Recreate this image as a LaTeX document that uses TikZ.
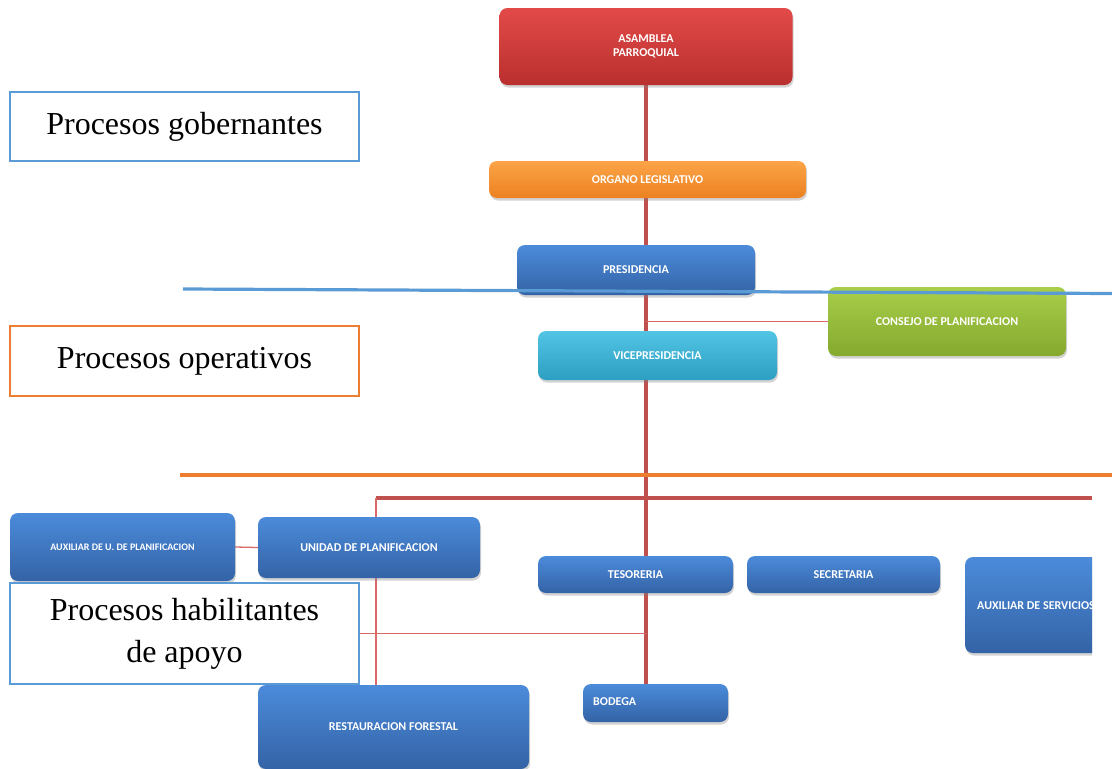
\documentclass[tikz,border=0pt]{standalone}
\usepackage{fontspec}
\setmainfont{Liberation Serif}
\newfontfamily\boxfont{Carlito}
\usetikzlibrary{shadows,calc,backgrounds}

\definecolor{redT}{HTML}{E24A48}
\definecolor{redB}{HTML}{B9302E}
\definecolor{orgT}{HTML}{FBA447}
\definecolor{orgB}{HTML}{EC8121}
\definecolor{bluT}{HTML}{4B8BDA}
\definecolor{bluB}{HTML}{3463A6}
\definecolor{cyaT}{HTML}{52C4E4}
\definecolor{cyaB}{HTML}{2C9FC2}
\definecolor{grnT}{HTML}{A8CE4A}
\definecolor{grnB}{HTML}{85A92E}
\definecolor{linkred}{HTML}{C0504D}
\definecolor{twigred}{HTML}{D86A68}
\definecolor{bandblue}{HTML}{5B9BD5}
\definecolor{bandorange}{HTML}{ED7D31}

\begin{document}
\begin{tikzpicture}[x=1pt,y=-1pt,
  orgbox/.style={rounded corners=8pt, inner sep=0pt, text=white,
    font=\boxfont\bfseries\fontsize{12}{13.5}\selectfont, align=center,
    drop shadow={opacity=0.35, shadow xshift=1pt, shadow yshift=-2.5pt}},
  redbox/.style={orgbox, top color=redT, bottom color=redB},
  orangebox/.style={orgbox, top color=orgT, bottom color=orgB},
  bluebox/.style={orgbox, top color=bluT, bottom color=bluB},
  cyanbox/.style={orgbox, top color=cyaT, bottom color=cyaB},
  greenbox/.style={orgbox, top color=grnT, bottom color=grnB},
  boxtext/.style={anchor=west, text=white, inner sep=0pt,
    font=\boxfont\bfseries\fontsize{12}{13.5}\selectfont},
  trunk/.style={draw=linkred, line width=3.2pt},
  twig/.style={draw=twigred, line width=1.3pt},
  band/.style={line width=3.2pt},
  tag/.style={draw, fill=white, line width=2pt, inner sep=0pt,
    font=\fontsize{32}{42}\selectfont, align=center}]

\useasboundingbox (0,0) rectangle (1112,769);

% ---------- organisational chart (cut at the right margin) ----------
\begin{scope}
\clip (0,0) rectangle (1092,769);

\node[redbox, minimum width=293, minimum height=77] (asam) at (646,46.5)
  {ASAMBLEA\\PARROQUIAL};
\node[orangebox, minimum width=317, minimum height=37] (org) at (647.5,179.5)
  {ORGANO LEGISLATIVO};
\node[bluebox, minimum width=238, minimum height=50] (pres) at (636,270)
  {PRESIDENCIA};
\node[greenbox, minimum width=238, minimum height=69] (cons) at (947,321.5)
  {CONSEJO DE PLANIFICACION};
\node[cyanbox, minimum width=239, minimum height=49] (vice) at (657.5,355.5)
  {VICEPRESIDENCIA};

\node[bluebox, minimum width=225, minimum height=68,
  font=\boxfont\bfseries\fontsize{10}{12}\selectfont] (auxp) at (122.5,547)
  {AUXILIAR DE U. DE PLANIFICACION};
\node[bluebox, minimum width=222, minimum height=61] (unid) at (369,547.5)
  {UNIDAD DE PLANIFICACION};
\node[bluebox, minimum width=195, minimum height=37] (teso) at (635.5,574.5)
  {TESORERIA};
\node[bluebox, minimum width=193, minimum height=37] (sec) at (843.5,574.5)
  {SECRETARIA};
\node[bluebox, minimum width=160, minimum height=96] (auxs) at (1045,605) {};
\node[boxtext] (auxst) at (977,606) {AUXILIAR DE SERVICIOS};
\node[bluebox, minimum width=271, minimum height=84] (rest) at (393.5,727)
  {RESTAURACION FORESTAL};
\node[bluebox, minimum width=145, minimum height=38] (bod) at (655.5,703) {};
\node[boxtext] (bodt) at (593,702) {BODEGA};

\coordinate (barL) at (376,498);
\coordinate (barR) at (1092,498);

\begin{scope}[on background layer]
  \draw[trunk] (asam.south) -- (asam.south |- bod.north);
  \draw[trunk] (barL) -- (barR);
  \draw[twig] (barL) -- (barL |- rest.north);
  \draw[twig] (cons.west) -- (cons.west -| asam.south);
  \draw[twig] (auxp.east) -- (unid.west);
  \draw[twig] ($(sec.north)+(13.5,0)$) -- ($(sec.north)+(13.5,0)$ |- barL);
  \draw[twig] ($(auxs.north)+(-15,0)$) -- ($(auxs.north)+(-15,0)$ |- barL);
\end{scope}
\end{scope}

% ---------- process bands ----------
\node[tag, draw=bandblue, minimum width=349, minimum height=69] (gob) at (184.5,126.5)
  {Procesos gobernantes};
\node[tag, draw=bandorange, minimum width=349, minimum height=70] (ope) at (184.5,361)
  {Procesos operativos};
\node[tag, draw=bandblue, minimum width=349, minimum height=101] (hab) at (184.5,633.5)
  {Procesos habilitantes\\de apoyo};

\begin{scope}[on background layer]
  \draw[twig] (hab.east -| asam.south) -- (hab.east);
\end{scope}

\coordinate (blueL) at (183,289);
\coordinate (blueR) at (1112,293.5);
\coordinate (orangeL) at (180,475);
\coordinate (orangeR) at (1112,475);
\draw[band, draw=bandblue] (blueL) -- (blueR);
\draw[band, draw=bandorange] (orangeL) -- (orangeR);

\end{tikzpicture}
\end{document}
